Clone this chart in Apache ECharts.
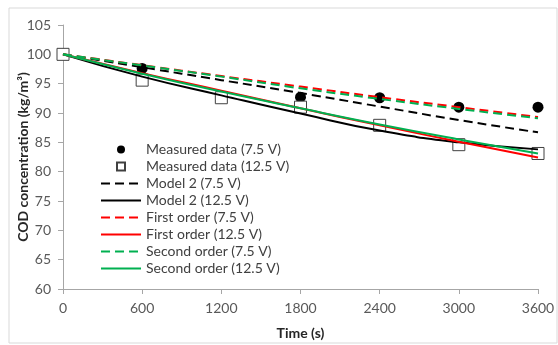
<!DOCTYPE html>
<html>
<head>
<meta charset="utf-8">
<script src="https://cdn.jsdelivr.net/npm/echarts@6/dist/echarts.min.js"></script>
<style>
  html, body { margin: 0; padding: 0; background: #fff; }
  #chart { width: 558px; height: 345px; }
</style>
</head>
<body>
<div id="chart"></div>
<script>
// time points (s)
const times = [0, 600, 1200, 1800, 2400, 3000, 3600]

// measured data, null where nothing was plotted
const measured75 = [100, 97.6, null, 92.7, 92.6, 91.0, 91.0]
const measured125 = [100, 95.6, 92.6, 91.0, 87.9, 84.6, 83.1]

// model curves
const model2_75 = [100, 97.8, 95.6, 93.4, 91.1, 88.8, 86.7]
const model2_125 = [100, 96.2, 93.0, 89.9, 87.0, 85.0, 83.8]
const first75 = [100, 98.15, 96.3, 94.5, 92.7, 91.0, 89.3]
const first125 = [100, 96.8, 93.8, 90.8, 87.9, 85.1, 82.4]
const second75 = [100, 98.1, 96.2, 94.2, 92.4, 90.7, 89.1]
const second125 = [100, 96.7, 93.65, 90.8, 88.05, 85.5, 83.1]

const pairs = (vals) => times.map((t, i) => [t, vals[i]]).filter(p => p[1] !== null)

const font = 'Lato, "Open Sans", sans-serif'
const dash = [9, 5]

const lineSeries = (name, vals, color, dashed) => ({
  name,
  type: 'line',
  data: pairs(vals),
  smooth: true,
  symbol: 'none',
  z: 3,
  lineStyle: { color, width: 2, type: dashed ? dash : 'solid' },
  itemStyle: { color }
})

// legend entries; lines hide the marker the legend would add
const lineItem = (name) => ({ name, itemStyle: { opacity: 0 } })

const chart = echarts.init(document.getElementById('chart'))
chart.setOption({
  animation: false,
  textStyle: { fontFamily: font },
  graphic: [{
    type: 'rect',
    shape: { x: 9, y: 8, width: 548, height: 335 },
    style: { fill: 'none', stroke: '#d9d9d9', lineWidth: 1 },
    silent: true
  }],
  grid: { left: 63, right: 20, top: 25, bottom: 56, outerBoundsMode: 'none' },
  legend: {
    orient: 'vertical',
    left: 95,
    top: 137,
    itemWidth: 40,
    itemHeight: 8,
    itemGap: 2,
    textStyle: { fontFamily: font, fontSize: 14, color: '#404040', lineHeight: 15 },
    data: [
      { name: 'Measured data (7.5 V)', icon: 'circle' },
      { name: 'Measured data (12.5 V)', icon: 'path://M0,0L10,0L10,10L0,10Z' },
      lineItem('Model 2 (7.5 V)'), lineItem('Model 2 (12.5 V)'),
      lineItem('First order (7.5 V)'), lineItem('First order (12.5 V)'),
      lineItem('Second order (7.5 V)'), lineItem('Second order (12.5 V)')
    ]
  },
  xAxis: {
    type: 'value',
    min: 0,
    max: 3600,
    interval: 600,
    name: 'Time (s)',
    nameLocation: 'middle',
    nameGap: 37,
    nameMoveOverlap: false,
    nameTextStyle: { fontFamily: font, fontSize: 14, fontWeight: 'bold', color: '#262626' },
    axisLine: { lineStyle: { color: '#a6a6a6', width: 1 } },
    axisTick: { show: true, length: 5, lineStyle: { color: '#a6a6a6' } },
    axisLabel: { fontSize: 14, color: '#595959', margin: 12, formatter: v => String(v) },
    splitLine: { show: false }
  },
  yAxis: {
    type: 'value',
    min: 60,
    max: 105,
    interval: 5,
    name: 'COD concentration (kg/m³)',
    nameLocation: 'middle',
    nameGap: 33,
    nameMoveOverlap: false,
    nameTextStyle: { fontFamily: font, fontSize: 14, fontWeight: 'bold', color: '#262626' },
    axisLine: { show: true, lineStyle: { color: '#a6a6a6', width: 1 } },
    axisTick: { show: true, length: 5, lineStyle: { color: '#a6a6a6' } },
    axisLabel: { fontSize: 14, color: '#595959', margin: 12 },
    splitLine: { show: false }
  },
  series: [
    {
      name: 'Measured data (7.5 V)',
      type: 'scatter',
      data: pairs(measured75),
      symbol: 'circle',
      symbolSize: 11,
      z: 2,
      itemStyle: { color: '#000', opacity: 1 }
    },
    {
      name: 'Measured data (12.5 V)',
      type: 'scatter',
      data: pairs(measured125),
      symbol: 'rect',
      symbolSize: 12,
      z: 2,
      itemStyle: { color: '#fff', borderColor: '#404040', borderWidth: 1, opacity: 1 }
    },
    lineSeries('Model 2 (7.5 V)', model2_75, '#000000', true),
    lineSeries('Model 2 (12.5 V)', model2_125, '#000000', false),
    lineSeries('First order (7.5 V)', first75, '#ff0000', true),
    lineSeries('First order (12.5 V)', first125, '#ff0000', false),
    lineSeries('Second order (7.5 V)', second75, '#00b050', true),
    lineSeries('Second order (12.5 V)', second125, '#00b050', false)
  ]
})
</script>
</body>
</html>
